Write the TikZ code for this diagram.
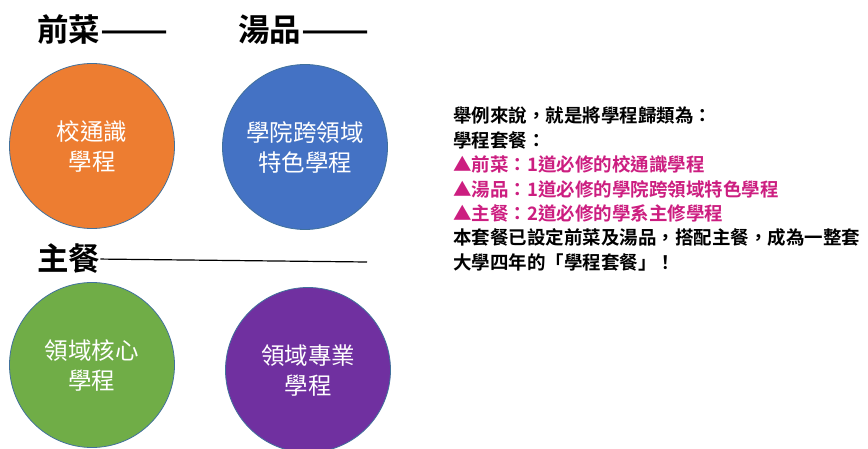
\documentclass[tikz,border=0pt]{standalone}
\usepackage{fontspec}
\newfontfamily\cjk{Noto Sans CJK TC}
\newfontfamily\cjkb{Noto Sans CJK TC Bold}
\definecolor{corange}{HTML}{ED7D31}
\definecolor{cblue}{HTML}{4472C4}
\definecolor{cgreen}{HTML}{70AD47}
\definecolor{cpurple}{HTML}{7030A0}
\definecolor{cedge}{HTML}{41719C}
\definecolor{cmag}{HTML}{CC1E80}
\tikzset{
  disc/.style={circle, draw=cedge, line width=0.8pt, minimum size=165pt, inner sep=0pt,
    text=white, align=center, font=\cjk\fontsize{23.5}{30}\selectfont},
  heading/.style={anchor=base west, inner sep=0pt, font=\cjkb\fontsize{31.5}{34}\selectfont},
}
\newcommand{\longdash}{\scalebox{1.27}[1]{——}}
\begin{document}
\begin{tikzpicture}[x=1pt,y=-1pt]
\useasboundingbox (0,0) rectangle (868,449);
\node[heading] (h1) at (37,42) {前菜\longdash};
\node[heading] (h2) at (238,42) {湯品\longdash};
\node[heading] (h3) at (37,271) {主餐};
\coordinate (h3end) at (367,262);
\draw[line width=1.2pt] (h3.east) -- (h3end);

\node[disc, fill=corange] (c1) at (92,146) {校通識\\學程};
\node[disc, fill=cblue] (c2) at (305,147) {學院跨領域\\特色學程};
\node[disc, fill=cgreen] (c3) at (92,365) {領域核心\\學程};
\node[disc, fill=cpurple] (c4) at (308,370) {領域專業\\學程};

\node[anchor=north west, inner sep=0pt, align=left,
  font=\cjkb\fontsize{18.5}{24.4}\selectfont] (txt) at (453,107)
  {舉例來說，就是將學程歸類為：\\
   學程套餐：\\
   \textcolor{cmag}{▲前菜：1道必修的校通識學程}\\
   \textcolor{cmag}{▲湯品：1道必修的學院跨領域特色學程}\\
   \textcolor{cmag}{▲主餐：2道必修的學系主修學程}\\
   本套餐已設定前菜及湯品，搭配主餐，成為一整套\\
   大學四年的「學程套餐」！};
\end{tikzpicture}
\end{document}
